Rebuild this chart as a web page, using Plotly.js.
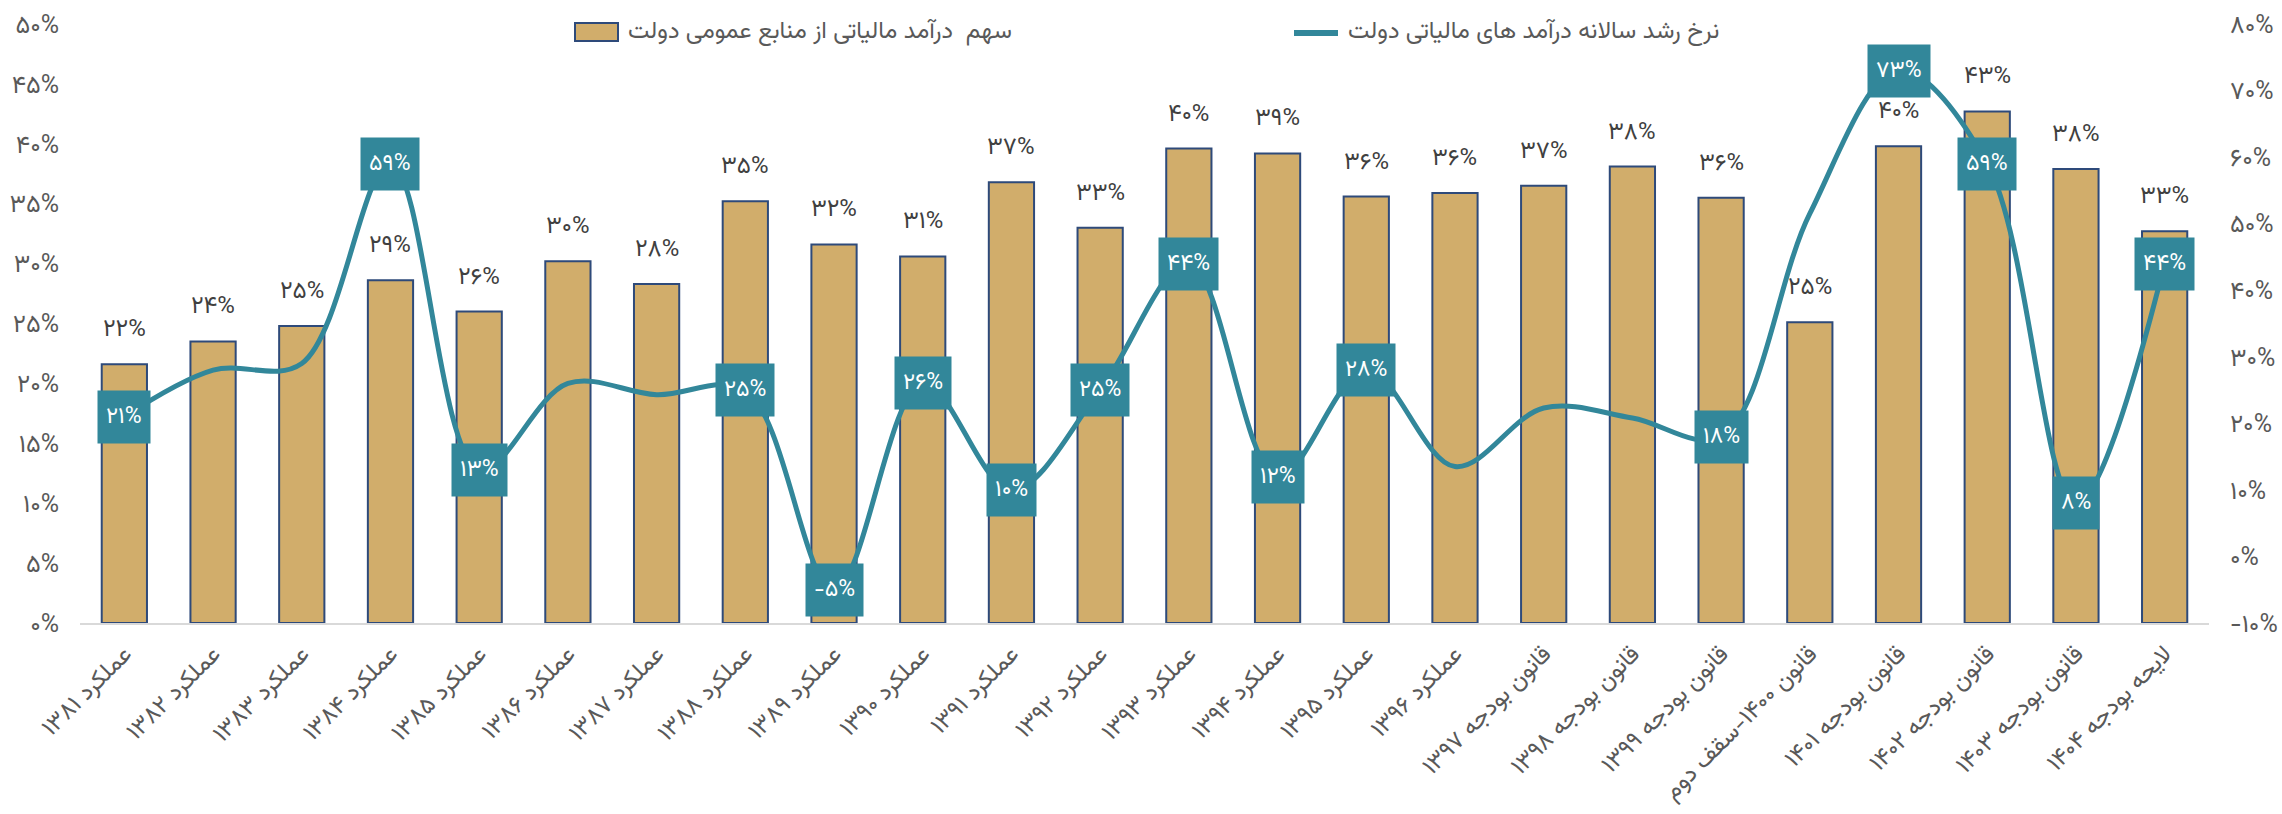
<!DOCTYPE html>
<html>
<head>
<meta charset="utf-8">
<script src="https://cdn.plot.ly/plotly-3.0.1.min.js"></script>
<style>
html,body{margin:0;padding:0;background:#fff;}
#chart{width:2282px;height:814px;}
</style>
</head>
<body>
<div id="chart"></div>
<script>
// ---- data ----
const categories = [
  "عملکرد ۱۳۸۱","عملکرد ۱۳۸۲","عملکرد ۱۳۸۳","عملکرد ۱۳۸۴","عملکرد ۱۳۸۵","عملکرد ۱۳۸۶",
  "عملکرد ۱۳۸۷","عملکرد ۱۳۸۸","عملکرد ۱۳۸۹","عملکرد ۱۳۹۰","عملکرد ۱۳۹۱","عملکرد ۱۳۹۲",
  "عملکرد ۱۳۹۳","عملکرد ۱۳۹۴","عملکرد ۱۳۹۵","عملکرد ۱۳۹۶","قانون بودجه ۱۳۹۷","قانون بودجه ۱۳۹۸",
  "قانون بودجه ۱۳۹۹","قانون ۱۴۰۰-سقف دوم","قانون بودجه ۱۴۰۱","قانون بودجه ۱۴۰۲","قانون بودجه ۱۴۰۳","لایحه بودجه ۱۴۰۴"
];
// share of tax revenue in government general resources (%)
const taxShare = [21.6,23.5,24.8,28.6,26.0,30.2,28.3,35.2,31.6,30.6,36.8,33.0,39.6,39.2,35.6,35.9,36.5,38.1,35.5,25.1,39.8,42.7,37.9,32.7];
// annual growth rate of government tax revenue (%)
const taxGrowth = [21,28,29,59,13,26,24.3,25,-5,26,10,25,44,12,28,13.5,22.3,20.8,18,51.5,73,59,8,44];
// which growth points carry a data label
const growthLabelShown = [1,0,0,1,1,0,0,1,1,1,1,1,1,1,1,0,0,0,1,0,1,1,1,1];

const leftTickVals = [0,5,10,15,20,25,30,35,40,45,50];
const rightTickVals = [-10,0,10,20,30,40,50,60,70,80];

const barName = "سهم  درآمد مالیاتی از منابع عمومی دولت";
const lineName = "نرخ رشد سالانه درآمد های مالیاتی دولت";

// ---- helpers ----
const faDigits = "۰۱۲۳۴۵۶۷۸۹";
function toFa(n){ return String(n).replace(/[0-9]/g, d => faDigits[+d]); }
function pct(v){ return toFa(Math.round(v)) + "%"; }

const FONT = 'Vazirmatn, "Noto Sans Arabic", "DejaVu Sans", sans-serif';
const BAR_FILL = "#D1AD6B";
const BAR_LINE = "#2E4A7A";
const TEAL = "#32879A";
const GREY = "#595959";

const W = 2282, H = 814;
const M = {l: 80, r: 73, t: 24, b: 191};
const PW = W - M.l - M.r, PH = H - M.t - M.b;
const px2x = p => (p - M.l) / PW;          // pixel -> paper x
const px2y = p => (H - M.b - p) / PH;      // pixel -> paper y

const barTrace = {
  type: "bar",
  x: categories,
  y: taxShare,
  name: barName,
  marker: {color: BAR_FILL, line: {color: BAR_LINE, width: 2}},
  hoverinfo: "skip",
  showlegend: false
};
const lineTrace = {
  type: "scatter",
  mode: "lines",
  x: categories,
  y: taxGrowth,
  yaxis: "y2",
  name: lineName,
  line: {color: TEAL, width: 5, shape: "spline", smoothing: 1},
  hoverinfo: "skip",
  showlegend: false
};

const annotations = [];
categories.forEach((c, i) => {
  annotations.push({
    x: c, y: taxShare[i], xref: "x", yref: "y",
    text: pct(taxShare[i]), showarrow: false,
    yanchor: "bottom", yshift: 13,
    font: {family: FONT, size: 24, color: "#404040"}
  });
});
categories.forEach((c, i) => {
  if (!growthLabelShown[i]) return;
  const v = taxGrowth[i];
  annotations.push({
    x: c, y: v, xref: "x", yref: "y2",
    text: (v < 0 ? "-" : "") + toFa(Math.abs(Math.round(v))) + "%",
    showarrow: false,
    bgcolor: TEAL, borderpad: 8,
    font: {family: FONT, size: 23, color: "#ffffff"}
  });
});

// custom legend (drawn in paper space)
const legendY = 32;
annotations.push({
  xref: "paper", yref: "paper", x: px2x(626), y: px2y(legendY),
  xanchor: "left", yanchor: "middle", showarrow: false,
  text: barName, font: {family: FONT, size: 24, color: GREY}
});
annotations.push({
  xref: "paper", yref: "paper", x: px2x(1346), y: px2y(legendY),
  xanchor: "left", yanchor: "middle", showarrow: false,
  text: lineName, font: {family: FONT, size: 24, color: GREY}
});
const shapes = [
  {type: "rect", xref: "paper", yref: "paper",
   x0: px2x(575), x1: px2x(618), y0: px2y(legendY + 9), y1: px2y(legendY - 9),
   fillcolor: BAR_FILL, line: {color: BAR_LINE, width: 2}},
  {type: "line", xref: "paper", yref: "paper",
   x0: px2x(1294), x1: px2x(1338), y0: px2y(legendY + 1), y1: px2y(legendY + 1),
   line: {color: TEAL, width: 6}}
];

const layout = {
  width: W, height: H,
  margin: M,
  paper_bgcolor: "#ffffff", plot_bgcolor: "#ffffff",
  font: {family: FONT, color: GREY, size: 22},
  bargap: 0.49,
  showlegend: false,
  xaxis: {
    type: "category", tickangle: -45, showgrid: false, zeroline: false,
    showline: true, linecolor: "#D9D9D9", linewidth: 2, ticks: "",
    ticklabelstandoff: 5,
    tickfont: {family: FONT, size: 24, color: GREY}
  },
  yaxis: {
    range: [0, 50], tickvals: leftTickVals, ticktext: leftTickVals.map(v => toFa(v) + "%"),
    showgrid: false, zeroline: false, showline: false, ticks: "",
    ticklabelstandoff: 20,
    tickfont: {family: FONT, size: 25, color: GREY}
  },
  yaxis2: {
    range: [-10, 80], overlaying: "y", side: "right",
    tickvals: rightTickVals, ticktext: rightTickVals.map(v => (v < 0 ? "-" : "") + toFa(Math.abs(v)) + "%"),
    showgrid: false, zeroline: false, showline: false, ticks: "",
    ticklabelstandoff: 20,
    tickfont: {family: FONT, size: 25, color: GREY}
  },
  shapes: shapes,
  annotations: annotations
};

Plotly.newPlot("chart", [barTrace, lineTrace], layout, {displayModeBar: false, staticPlot: true});
</script>
</body>
</html>
